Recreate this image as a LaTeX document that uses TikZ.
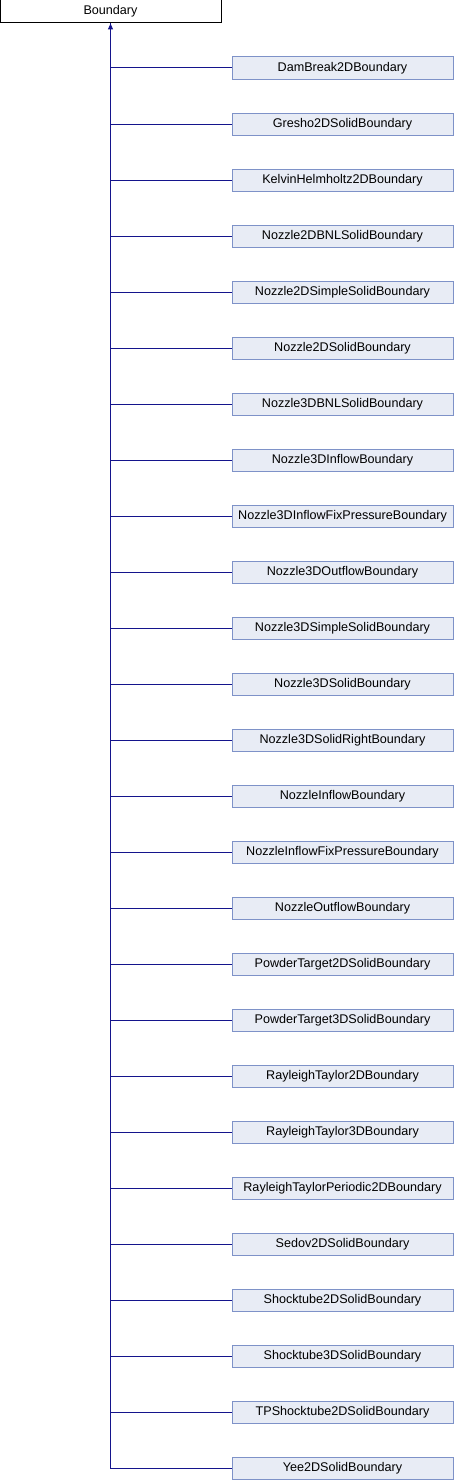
\documentclass[tikz,border=0pt]{standalone}
\usepackage{fontspec}
\setmainfont{Liberation Sans}
\usepackage{xcolor}
\usepackage{tikz}
\usetikzlibrary{positioning, arrows.meta}

\definecolor{clsfill}{RGB}{232,236,245}
\definecolor{clsdraw}{RGB}{126,146,200}
\definecolor{linkblue}{RGB}{20,20,140}

\begin{document}
\begin{tikzpicture}[x=1pt, y=1pt,
  box/.style={draw, minimum width=221pt, minimum height=22pt, inner sep=0pt,
    line width=1pt, font=\fontsize{12.6}{14}\selectfont},
  root/.style={box, fill=white, draw=black, minimum height=23pt},
  cls/.style={box, fill=clsfill, draw=clsdraw},
  link/.style={draw=linkblue, line width=1pt},
  inherit/.style={link, -{Triangle[length=6pt, width=5pt]}}]

  \useasboundingbox (0,0) rectangle (454,-1480);

  \node[root] (boundary) at (110.5,-11.5) {Boundary};

  % derived classes, one per row
  \foreach \cname [count=\i] in {DamBreak2DBoundary, Gresho2DSolidBoundary,
      KelvinHelmholtz2DBoundary, Nozzle2DBNLSolidBoundary,
      Nozzle2DSimpleSolidBoundary, Nozzle2DSolidBoundary,
      Nozzle3DBNLSolidBoundary, Nozzle3DInflowBoundary,
      Nozzle3DInflowFixPressureBoundary, Nozzle3DOutflowBoundary,
      Nozzle3DSimpleSolidBoundary, Nozzle3DSolidBoundary,
      Nozzle3DSolidRightBoundary, NozzleInflowBoundary,
      NozzleInflowFixPressureBoundary, NozzleOutflowBoundary,
      PowderTarget2DSolidBoundary, PowderTarget3DSolidBoundary,
      RayleighTaylor2DBoundary, RayleighTaylor3DBoundary,
      RayleighTaylorPeriodic2DBoundary, Sedov2DSolidBoundary,
      Shocktube2DSolidBoundary, Shocktube3DSolidBoundary,
      TPShocktube2DSolidBoundary, Yee2DSolidBoundary}
    \node[cls] (c\i) at (342.5,{-68-56*(\i-1)}) {\cname};

  \foreach \i in {1,...,25}
    \draw[link] (c\i.west) -| (boundary.south);
  \draw[inherit] (c26.west) -| (boundary.south);
\end{tikzpicture}
\end{document}
